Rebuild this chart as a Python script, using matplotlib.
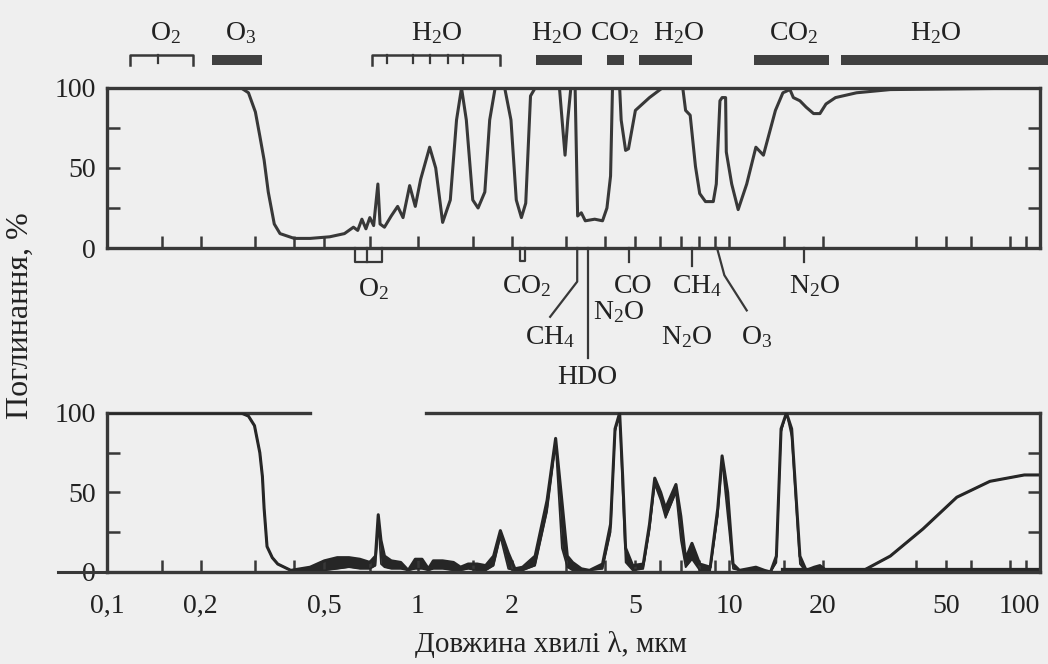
import numpy as np
import matplotlib
matplotlib.use("Agg")
import matplotlib.pyplot as plt
from matplotlib.ticker import FixedLocator, NullFormatter

# Поглинання випромінювання атмосферою: весь стовп (вгорі) та приземний шар (внизу)

# --- верхня панель: поглинання всією товщею атмосфери, %
lam_top = [0.1, 0.27, 0.285, 0.3, 0.31, 0.32, 0.33, 0.345, 0.36, 0.4, 0.45, 0.52,
           0.58, 0.62, 0.64, 0.66, 0.68, 0.70, 0.72, 0.743, 0.755, 0.78, 0.82, 0.86,
           0.895, 0.94, 0.98, 1.02, 1.09, 1.14, 1.2, 1.27, 1.33, 1.38, 1.43, 1.5,
           1.56, 1.64, 1.7, 1.77, 1.9, 1.99, 2.07, 2.15, 2.22, 2.3, 2.38, 2.85,
           2.92, 2.97, 3.03, 3.1, 3.2, 3.26, 3.35, 3.45, 3.7, 3.92, 4.05, 4.16,
           4.22, 4.45, 4.5, 4.65, 4.75, 5.0, 5.55, 6.1, 7.1, 7.25, 7.5, 7.8,
           8.05, 8.4, 8.9, 9.1, 9.35, 9.5, 9.75, 9.8, 10.2, 10.7, 11.4, 12.2,
           12.9, 14.1, 14.9, 15.7, 16.1, 16.9, 17.7, 18.7, 19.6, 20.5, 22.0, 25.7,
           33.0, 100.0]
abs_top = [100, 100, 97, 85, 70, 55, 35, 15, 9, 6, 6, 7,
           9, 13, 11, 18, 12, 19, 14, 40, 15, 13, 20, 26,
           19, 39, 26, 43, 63, 50, 16, 30, 80, 100, 80, 30,
           25, 35, 80, 100, 100, 80, 30, 19, 28, 95, 100, 100,
           75, 58, 80, 100, 100, 20, 22, 17, 18, 17, 25, 45,
           100, 100, 80, 61, 62, 86, 94, 100, 100, 86, 83, 51,
           34, 29, 29, 40, 92, 94, 94, 60, 40, 24, 40, 63,
           58, 86, 97, 99, 94, 92, 88, 84, 84, 90, 94, 97,
           99, 100]

# --- нижня панель: поглинання в приземному шарі, %
lam_bot = [0.1, 0.27, 0.285, 0.298, 0.31, 0.316, 0.32, 0.327, 0.34, 0.354, 0.39, 0.45,
           0.5, 0.55, 0.6, 0.65, 0.7, 0.73, 0.745, 0.76, 0.78, 0.82, 0.88, 0.93,
           0.98, 1.03, 1.08, 1.12, 1.2, 1.3, 1.37, 1.45, 1.55, 1.65, 1.75, 1.84,
           1.95, 2.05, 2.17, 2.38, 2.6, 2.77, 2.9, 3.02, 3.14, 3.35, 3.56, 3.92,
           4.16, 4.3, 4.45, 4.55, 4.65, 4.9, 5.3, 5.55, 5.77, 6.03, 6.25, 6.75,
           7.0, 7.25, 7.6, 8.05, 8.7, 9.2, 9.5, 9.9, 10.3, 10.8, 11.5, 12.2,
           13.0, 13.6, 14.2, 14.7, 15.3, 15.9, 16.9, 17.7, 18.8, 19.6, 20.5, 21.1,
           26.5, 33.0, 42.0, 54.0, 69.0, 89.0, 100.0]
abs_bot = [100, 100, 98, 92, 75, 60, 40, 16, 9, 5, 1, 3,
           7, 9, 9, 8, 6, 10, 36, 20, 10, 7, 6, 1,
           8, 8, 2, 7, 7, 6, 3, 5, 5, 4, 10, 26,
           12, 2, 3, 10, 45, 84, 45, 10, 6, 2, 1, 5,
           30, 90, 100, 60, 15, 4, 5, 30, 59, 50, 40, 55,
           35, 8, 18, 5, 3, 40, 73, 50, 5, 1, 2, 3,
           1, 0, 10, 90, 100, 90, 10, 1, 3, 4, 1, 0,
           0, 10, 27, 47, 57, 61, 61]
low_bot = [100, 100, 98, 92, 75, 60, 40, 16, 9, 5, 1, 1,
           1, 2, 3, 2, 2, 4, 30, 5, 3, 2, 2, 1,
           2, 2, 1, 2, 2, 1, 1, 2, 1, 1, 4, 22,
           2, 1, 1, 4, 38, 80, 15, 3, 1, 1, 1, 2,
           25, 88, 100, 50, 6, 1, 2, 26, 55, 45, 34, 50,
           20, 3, 8, 1, 1, 35, 70, 35, 2, 1, 0, 1,
           0, 0, 6, 88, 100, 85, 5, 0, 1, 1, 0, 0,
           0, 10, 27, 47, 57, 61, 61]

# смуги поглинання газів над графіком
band_names = ['O$_2$', 'O$_3$', 'H$_2$O', 'H$_2$O', 'CO$_2$', 'H$_2$O', 'CO$_2$', 'H$_2$O']
band_label_x = [0.154, 0.268, 1.15, 2.80, 4.30, 6.89, 16.2, 46.2]
band_start = [0.119, 0.218, 0.711, 2.40, 4.05, 5.13, 12.0, 22.9]
band_end = [0.189, 0.315, 1.835, 3.37, 4.60, 7.61, 21.0, 106.0]
band_solid = [False, True, False, True, True, True, True, True]
band_ticks = [[0.146], [], [0.795, 0.963, 1.093, 1.249, 1.395], [], [], [], [], []]

# підписи газів під верхньою панеллю
gas_names = ['O$_2$', 'CO$_2$', 'CO', 'CH$_4$', 'N$_2$O', 'N$_2$O', 'CH$_4$', 'N$_2$O', 'O$_3$', 'HDO']
gas_x = [0.717, 2.24, 4.91, 7.89, 18.8, 4.43, 2.66, 7.32, 12.3, 3.49]
gas_y = [-26, -24, -24, -24, -24, -40, -56, -56, -56, -81]

xticks_major = [0.1, 0.2, 0.5, 1, 2, 5, 10, 20, 50, 100]
xtick_labels = ['0,1', '0,2', '0,5', '1', '2', '5', '10', '20', '50', '100']
xticks_minor = [0.15, 0.3, 0.4, 0.7, 1.5, 3, 4, 6, 7, 8, 9, 15, 40, 60, 80, 90]

ink = '#383838'
txt = '#222222'
bg = '#efefef'
plt.rcParams['font.family'] = ['Liberation Serif', 'DejaVu Serif']
plt.rcParams['mathtext.fontset'] = 'custom'
plt.rcParams['mathtext.rm'] = 'Liberation Serif'
plt.rcParams['mathtext.it'] = 'Liberation Serif'

fig = plt.figure(figsize=(10.48, 6.64), dpi=100, facecolor=bg)
ax1 = fig.add_axes([0.1021, 0.6265, 0.8903, 0.241])
ax2 = fig.add_axes([0.1021, 0.1386, 0.8903, 0.2395])


def style_axis(ax):
    ax.set_facecolor('none')
    ax.set_xscale('log')
    ax.set_xlim(0.1, 100)
    ax.set_ylim(0, 100)
    ax.xaxis.set_major_locator(FixedLocator(xticks_major))
    ax.xaxis.set_minor_locator(FixedLocator(xticks_minor))
    ax.xaxis.set_minor_formatter(NullFormatter())
    ax.yaxis.set_major_locator(FixedLocator([0, 50, 100]))
    ax.yaxis.set_minor_locator(FixedLocator([25, 75]))
    ax.set_yticklabels(['0', '50', '100'])
    ax.tick_params(which='both', direction='in', color=ink, width=1.8, length=9,
                   right=True, top=False, labelsize=20, labelcolor=txt, pad=8)
    for s in ax.spines.values():
        s.set_color(ink)
        s.set_linewidth(2.4)


style_axis(ax1)
ax1.tick_params(axis='x', which='major', labelbottom=False)
ax1.plot(lam_top, abs_top, color=ink, lw=2.2, solid_joinstyle='round')

# смуги поглинання над верхньою панеллю
for name, xc, x0, x1, solid, ticks in zip(band_names, band_label_x, band_start,
                                          band_end, band_solid, band_ticks):
    ax1.text(xc, 134, name, ha='center', va='center', fontsize=20,
             color=txt, clip_on=False)
    if solid:
        ax1.fill_between([x0, x1], 114.5, 120.5, color='#404040', lw=0, clip_on=False)
    else:
        ax1.plot([x0, x0, x1, x1], [114.5, 120.5, 120.5, 114.5], color=ink,
                 lw=1.8, clip_on=False)
        for t in ticks:
            ax1.plot([t, t], [120.5, 115.5], color=ink, lw=1.6, clip_on=False)

# підписи і виноски під верхньою панеллю
for name, gx, gy in zip(gas_names, gas_x, gas_y):
    ax1.text(gx, gy, name, ha='center', va='center', fontsize=20,
             color=txt, clip_on=False)

callouts = [
    ([0.627, 0.627, 0.766, 0.766], [0, -9, -9, 0]),   # O2
    ([0.686, 0.686], [0, -9]),
    ([2.13, 2.13, 2.2, 2.2], [0, -8, -8, 0]),          # CO2
    ([3.25, 3.25, 2.66], [0, -21, -43]),              # CH4
    ([3.52, 3.52], [0, -69]),                         # HDO
    ([4.77, 4.77], [0, -9]),                          # CO
    ([7.6, 7.6], [0, -11]),                           # CH4
    ([9.15, 9.66, 11.4], [0, -17, -39]),              # O3
    ([17.4, 17.4], [0, -9]),                          # N2O
]
for cx, cy in callouts:
    ax1.plot(cx, cy, color=ink, lw=1.6, clip_on=False)

style_axis(ax2)
ax2.set_xticklabels(xtick_labels)
ax2.tick_params(axis='x', which='major', pad=16)
ax2.get_xticklabels()[-1].set_horizontalalignment('right')
ax2.spines['top'].set_visible(False)
ax2.plot([0.1, 0.45], [100, 100], color=ink, lw=2.4, clip_on=False)
ax2.plot([1.06, 100], [100, 100], color=ink, lw=2.4, clip_on=False)
ax2.plot([-0.053, 0], [0, 0], transform=ax2.transAxes, color=ink, lw=2.2,
         clip_on=False)
ax2.fill_between(lam_bot, low_bot, abs_bot, color='#262626', lw=0)
ax2.plot(lam_bot, abs_bot, color='#262626', lw=2.2, solid_joinstyle='round')
ax2.plot(lam_bot, low_bot, color='#262626', lw=1.2)
ax2.plot([15, 100], [0.8, 0.8], color='#262626', lw=4.5)

fig.text(0.019, 0.525, 'Поглинання, %', rotation=90, ha='center', va='center',
         fontsize=23, color=txt)
fig.text(0.526, 0.030, 'Довжина хвилі λ, мкм', ha='center', va='center',
         fontsize=21, color=txt)

fig.savefig('out.png', dpi=100, facecolor=bg)
